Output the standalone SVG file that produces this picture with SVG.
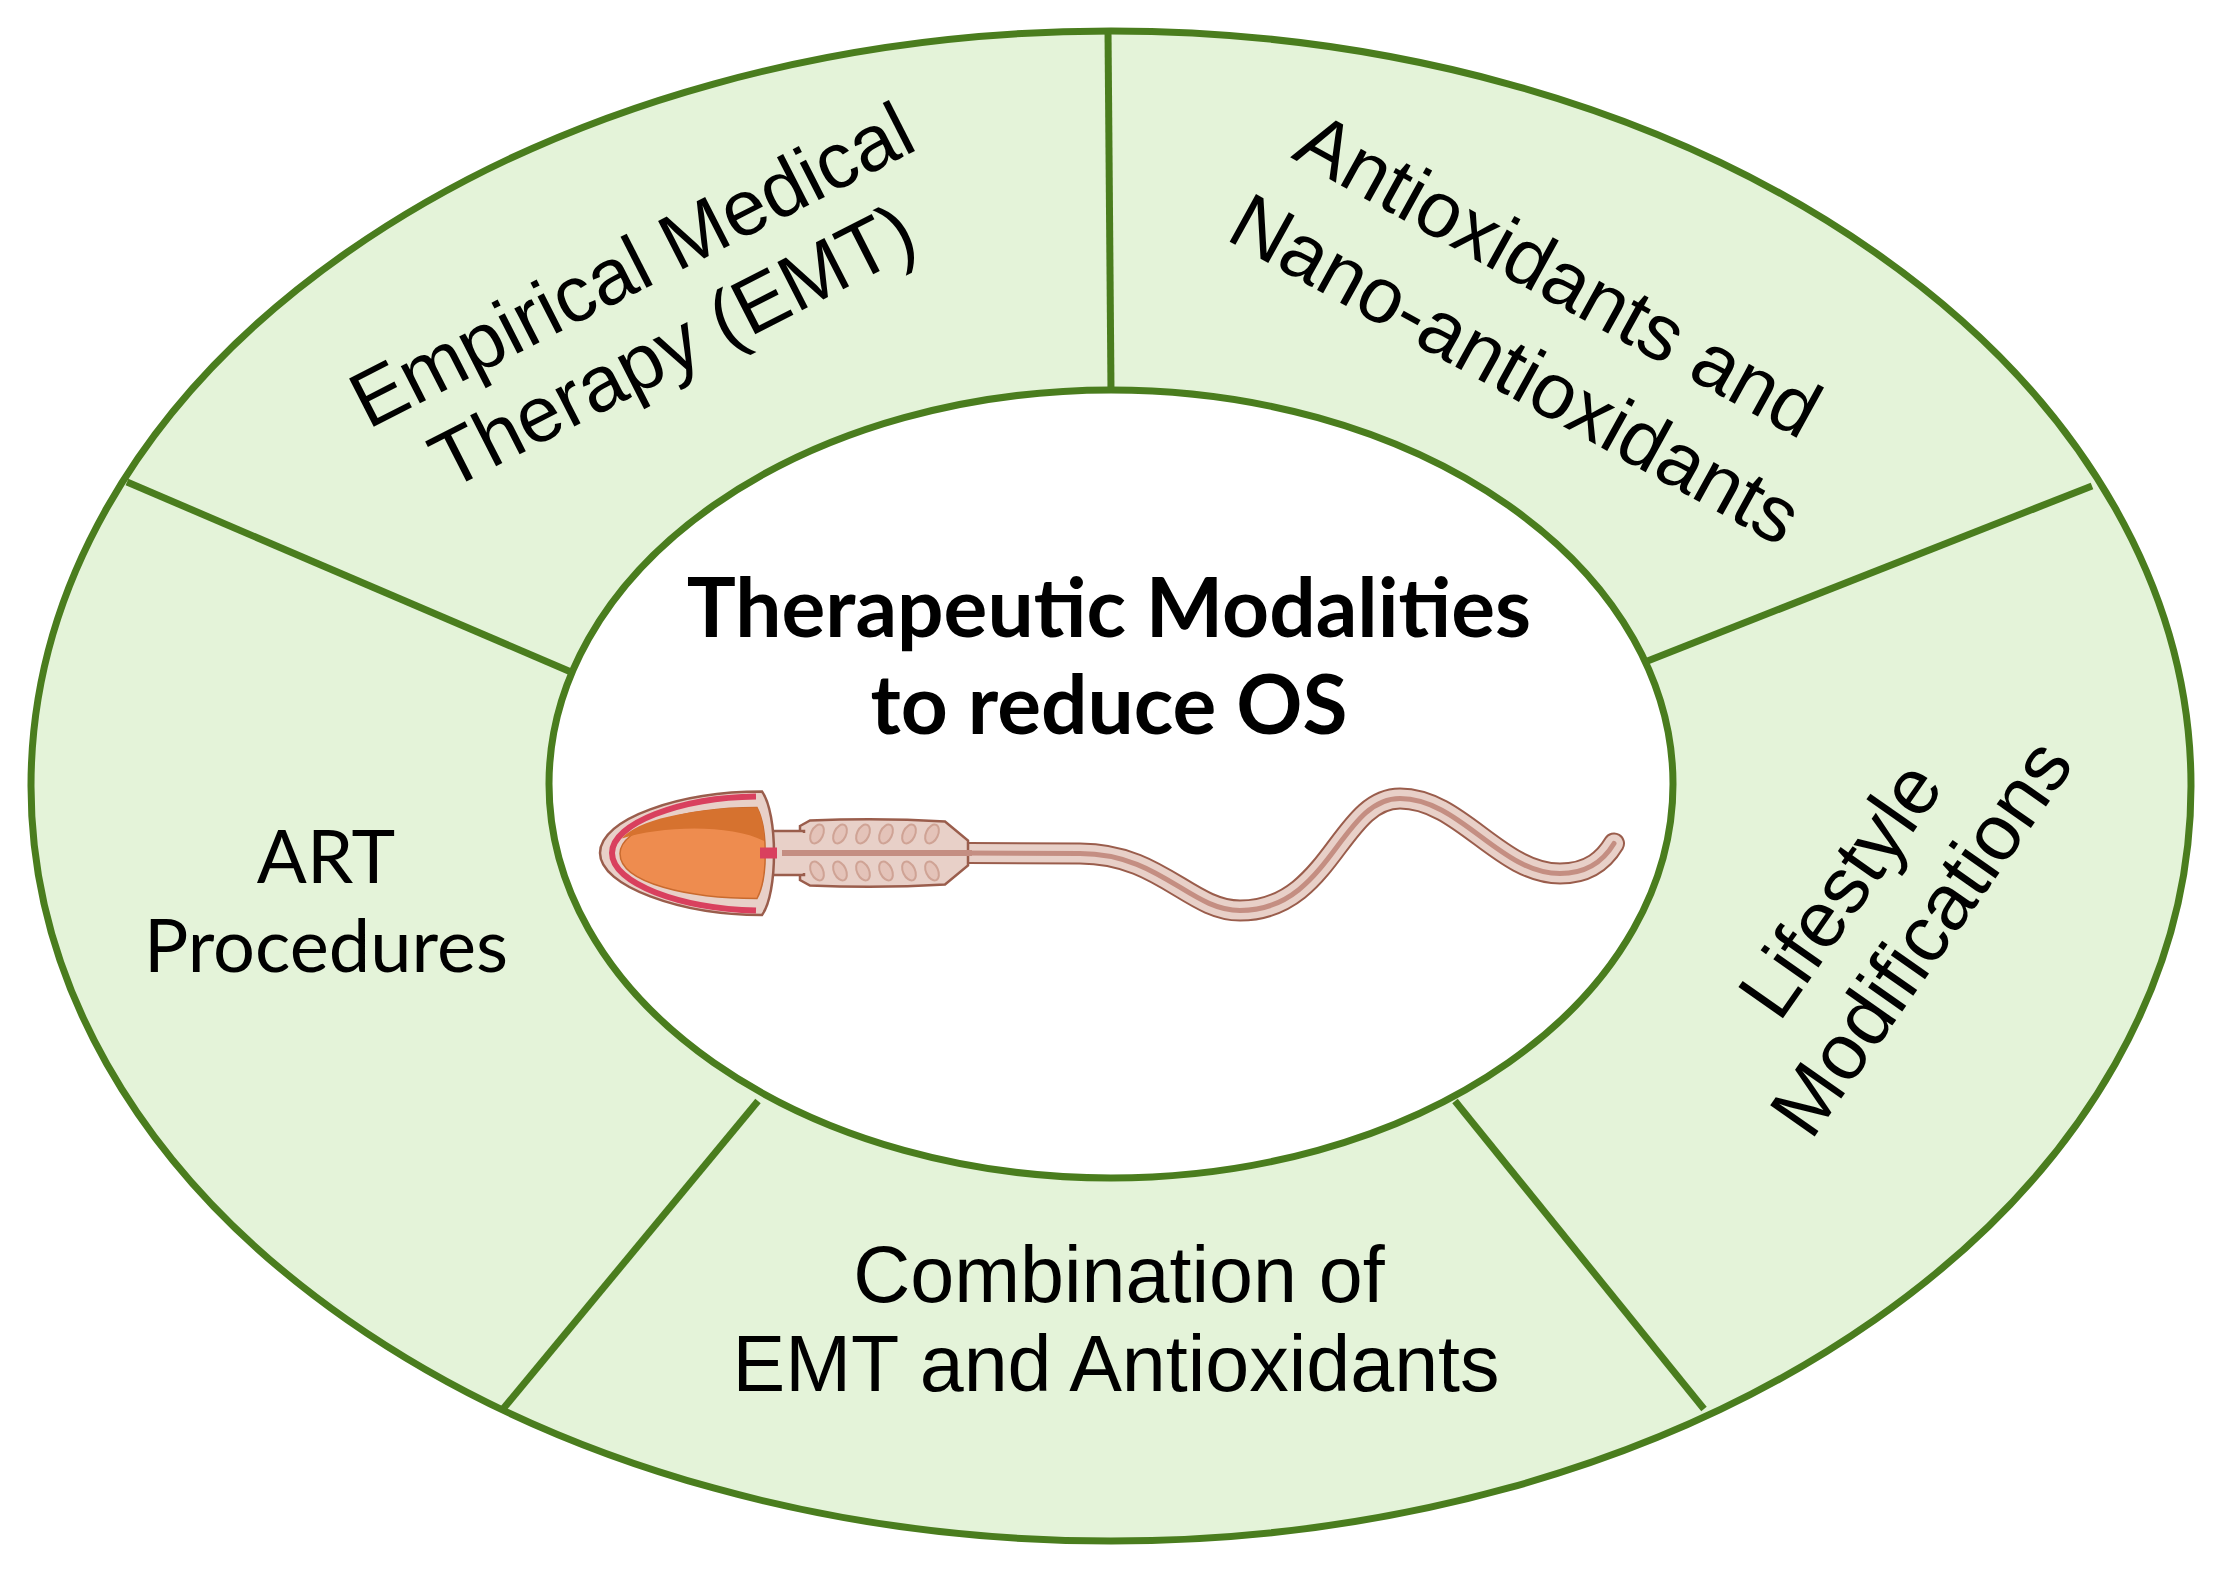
<svg xmlns="http://www.w3.org/2000/svg" width="2221" height="1574" viewBox="0 0 2221 1574">
<style>
.seg{fill:#e4f3d9;stroke:#4a7d1e;stroke-width:7}
.div{stroke:#4a7d1e;stroke-width:7;fill:none}
.lbl{font-family:"Liberation Sans",Arial,sans-serif;font-size:79px;fill:#000;text-anchor:middle}
.lato{font-family:Lato,"Liberation Sans",sans-serif;font-size:74px;fill:#000;text-anchor:middle}
.title{font-family:Lato,"Liberation Sans",sans-serif;font-weight:bold;font-size:82px;fill:#000;text-anchor:middle}
.mito{fill:#e4c3b9;stroke:#cfa395;stroke-width:2}
.ns{vector-effect:non-scaling-stroke}
</style>
<rect width="2221" height="1574" fill="#fff"/>
<g id="ring">
<ellipse class="seg" cx="1111" cy="786" rx="1080" ry="755"/>
</g>
<g id="connectors">
<line class="div" x1="1108" y1="31" x2="1111" y2="390"/>
<line class="div" x1="127" y1="482" x2="571" y2="672"/>
<line class="div" x1="2092" y1="486" x2="1645" y2="662"/>
<line class="div" x1="503" y1="1409" x2="758" y2="1101"/>
<line class="div" x1="1704" y1="1409" x2="1455" y2="1101"/>
</g>
<g id="center">
<ellipse cx="1111" cy="784" rx="562" ry="394" fill="#fff" stroke="#4a7d1e" stroke-width="7"/>
<text class="title" x="1109" y="637">Therapeutic Modalities</text>
<text class="title" x="1109" y="734">to reduce OS</text>
</g>
<g id="sperm">
<g transform="matrix(1 0 0 0.5 0 378.5)">
<g fill="none" stroke-linecap="round">
<path class="ns" d="M969 949 L1080 950 C1160 950 1190 1064 1240 1064 C1330 1064 1340 840 1400 840 C1460 840 1500 990 1560 990 C1590 990 1605 960 1614 930" stroke="#9a5d4c" stroke-width="22"/>
<path class="ns" d="M969 949 L1080 950 C1160 950 1190 1064 1240 1064 C1330 1064 1340 840 1400 840 C1460 840 1500 990 1560 990 C1590 990 1605 960 1614 930" stroke="#e8d0c8" stroke-width="18"/>
<path class="ns" d="M960 949 L1080 950 C1160 950 1190 1064 1240 1064 C1330 1064 1340 840 1400 840 C1460 840 1500 990 1560 990 C1590 990 1605 960 1614 930" stroke="#c48e82" stroke-width="5"/>
</g>
<path class="ns" d="M800 895 L810 884 Q880 878 945 886 L968 924 L968 974 L945 1012 Q880 1020 810 1014 L800 1003 Z" fill="#e8d0c8" stroke="#9a5d4c" stroke-width="2.5"/>
<rect class="ns" x="762" y="905" width="42" height="88" fill="#e8d0c8" stroke="#9a5d4c" stroke-width="2.5"/>
<rect x="764" y="909" width="42" height="80" fill="#e8d0c8"/>
<line class="ns" x1="782" y1="949" x2="972" y2="949" stroke="#c48e82" stroke-width="6"/>
<path class="ns" d="M762 826 C680 826 600 880 600 949 C600 1015 680 1073 762 1073 C778 1030 778 870 762 826 Z" fill="#e8d0c8" stroke="#9a5d4c" stroke-width="2.5"/>
<path class="ns" d="M756 836 C680 838 612 890 612 949 C612 1010 680 1060 756 1064" fill="none" stroke="#d9405e" stroke-width="6"/>
<path class="ns" d="M757 858 C680 858 620 900 620 950 C620 1010 690 1040 757 1040 C768 1000 768 900 757 858 Z" fill="#ee8c4f" stroke="#c96a2e" stroke-width="1.5"/>
<path d="M757 858 C690 858 635 885 622 920 C660 895 730 890 764 925 C764 900 762 875 757 858 Z" fill="#d6722f"/>
<rect x="760" y="938" width="17" height="22" fill="#d9405e"/>
</g>
<g class="mito">
<ellipse cx="817" cy="834" rx="6" ry="10" transform="rotate(25 817 834)"/>
<ellipse cx="840" cy="834" rx="6" ry="10" transform="rotate(25 840 834)"/>
<ellipse cx="863" cy="834" rx="6" ry="10" transform="rotate(25 863 834)"/>
<ellipse cx="886" cy="834" rx="6" ry="10" transform="rotate(25 886 834)"/>
<ellipse cx="909" cy="834" rx="6" ry="10" transform="rotate(25 909 834)"/>
<ellipse cx="932" cy="834" rx="6" ry="10" transform="rotate(25 932 834)"/>
<ellipse cx="817" cy="871" rx="6" ry="10" transform="rotate(-25 817 871)"/>
<ellipse cx="840" cy="871" rx="6" ry="10" transform="rotate(-25 840 871)"/>
<ellipse cx="863" cy="871" rx="6" ry="10" transform="rotate(-25 863 871)"/>
<ellipse cx="886" cy="871" rx="6" ry="10" transform="rotate(-25 886 871)"/>
<ellipse cx="909" cy="871" rx="6" ry="10" transform="rotate(-25 909 871)"/>
<ellipse cx="932" cy="871" rx="6" ry="10" transform="rotate(-25 932 871)"/>
</g>
</g>
<g id="emt">
<text class="lbl" transform="translate(632 266) rotate(-27)" y="26">Empirical Medical</text>
<text class="lbl" transform="translate(673 347) rotate(-27)" y="26">Therapy (EMT)</text>
</g>
<g id="antiox">
<text class="lbl" transform="translate(1558 276) rotate(29)" y="26">Antioxidants and</text>
<text class="lbl" transform="translate(1515 370) rotate(29)" y="26">Nano-antioxidants</text>
</g>
<g id="lifestyle">
<text class="lbl" transform="translate(1841 890) rotate(-55)" y="26">Lifestyle</text>
<text class="lbl" transform="translate(1922 938) rotate(-55)" y="26">Modifications</text>
</g>
<g id="art">
<text class="lato" x="326" y="883">ART</text>
<text class="lato" x="326" y="972">Procedures</text>
</g>
<g id="combo">
<text class="lbl" x="1119" y="1302">Combination of</text>
<text class="lbl" x="1116" y="1391">EMT and Antioxidants</text>
</g>
</svg>
